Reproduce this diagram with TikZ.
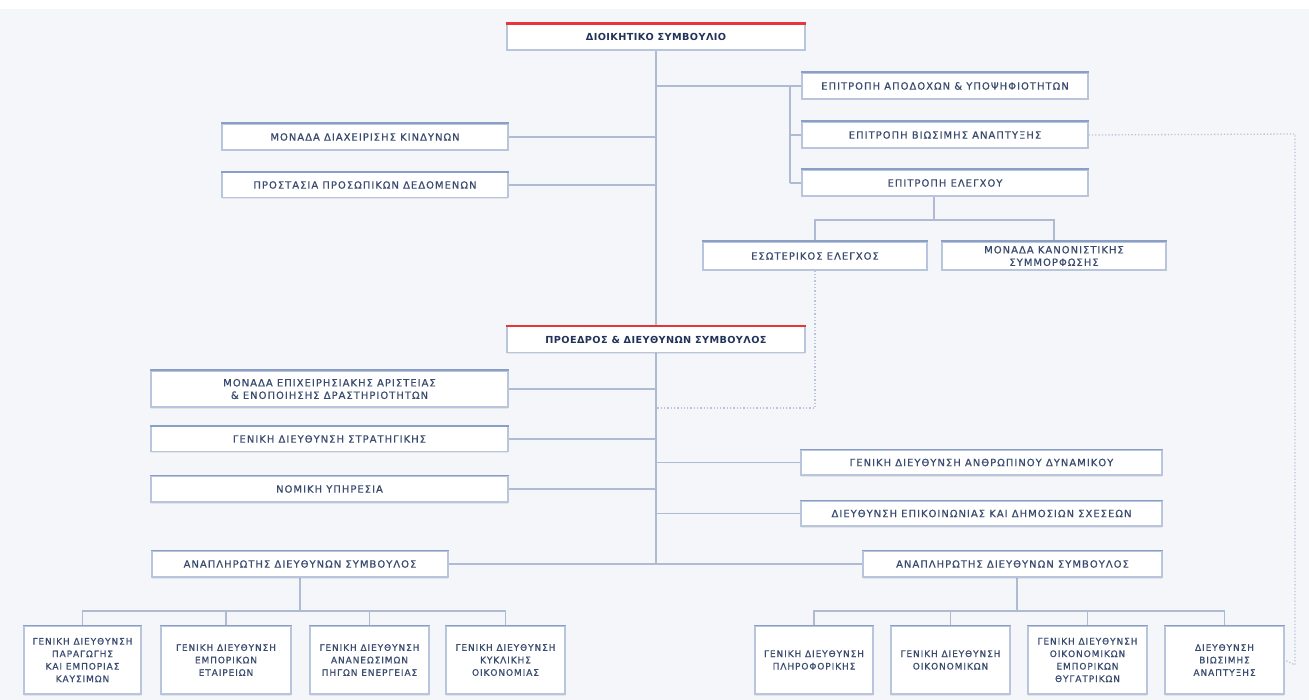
\documentclass[tikz,border=0pt]{standalone}
\usepackage{fontspec}
\usetikzlibrary{shadows}
\setmainfont{DejaVu Sans}
\newfontfamily\regf[LetterSpace=10,FakeBold=0.7]{DejaVu Sans}
\newfontfamily\boldf[LetterSpace=4]{DejaVu Sans Bold}
\definecolor{bg}{HTML}{F4F6FA}
\definecolor{bxb}{HTML}{B8C5DC}
\definecolor{bxtop}{HTML}{8A9FC5}
\definecolor{redtop}{HTML}{E8343B}
\definecolor{lnc}{HTML}{AEBBD2}
\definecolor{dotc}{HTML}{BAC5D9}
\definecolor{txt}{HTML}{3A4B70}
\definecolor{txtb}{HTML}{22335A}
\tikzset{
  box/.style={draw=bxb, line width=1.1pt, fill=white, inner sep=0pt, align=center,
    text=txt, font={\regf\fontsize{10}{12.5}\selectfont},
    drop shadow={shadow xshift=0pt, shadow yshift=-1.5pt, opacity=0.12, fill=black!60},
    append after command={(\tikzlastnode.north west) edge[draw=bxtop, line width=1.9pt] (\tikzlastnode.north east)}},
  small/.style={font={\regf\fontsize{9}{12.5}\selectfont}},
  mainbox/.style={draw=bxb, line width=1.1pt, fill=white, inner sep=0pt, align=center,
    text=txtb, font={\boldf\fontsize{9.7}{12.5}\selectfont},
    drop shadow={shadow xshift=0pt, shadow yshift=-1.5pt, opacity=0.12, fill=black!60},
    append after command={(\tikzlastnode.north west) edge[draw=redtop, line width=2.2pt] (\tikzlastnode.north east)}},
  conn/.style={draw=lnc, line width=1.1pt},
  dotl/.style={draw=dotc, line width=1.3pt, dotted}
}
\begin{document}
\begin{tikzpicture}[x=1pt,y=-1pt]
\fill[bg] (0,0) rectangle (1309,700);
\fill[white] (0,0) rectangle (1309,9);
\useasboundingbox (0,0) rectangle (1309,700);

% coordinates for junctions
\coordinate (tA) at (656,86);
\coordinate (cA) at (790,86);
\coordinate (cB) at (790,135);
\coordinate (cC) at (790,183);
\coordinate (eD) at (934,220);
\coordinate (eL) at (815,220);
\coordinate (eR) at (1054,220);
\coordinate (tK) at (656,137);
\coordinate (tP) at (656,185);
\coordinate (tE) at (656,389);
\coordinate (tS) at (656,439);
\coordinate (tN) at (656,489);
\coordinate (tH) at (656,462.5);
\coordinate (tC) at (656,513.5);
\coordinate (tD) at (656,564);
\coordinate (bL) at (300,611);
\coordinate (bR) at (1017,611);
\coordinate (dA) at (815,408);
\coordinate (dB) at (656,408);
\coordinate (vA) at (1295,134);
\coordinate (vB) at (1295,665);

% connectors
\draw[conn] (656,50) -- (656,327);
\draw[conn] (656,352) -- (tD);
\draw[conn] (tA) -- (802,86);
\draw[conn] (cA) -- (cC);
\draw[conn] (cB) -- (802,135);
\draw[conn] (cC) -- (802,183);
\draw[conn] (934,196) -- (eD);
\draw[conn] (815,242) -- (eL) -- (eR) -- (1054,242);
\draw[conn] (508,137) -- (tK);
\draw[conn] (508,185) -- (tP);
\draw[conn] (508,389) -- (tE);
\draw[conn] (508,439) -- (tS);
\draw[conn] (508,489) -- (tN);
\draw[conn] (tH) -- (801,462.5);
\draw[conn] (tC) -- (801,513.5);
\draw[conn] (448,564) -- (863,564);
\draw[conn] (300,577) -- (bL);
\draw[conn] (1017,577) -- (bR);
\draw[conn] (82.5,626) -- (82.5,611) -- (505.5,611) -- (505.5,626);
\draw[conn] (226,611) -- (226,626);
\draw[conn] (369.5,611) -- (369.5,626);
\draw[conn] (814,626) -- (814,611) -- (1224.5,611) -- (1224.5,626);
\draw[conn] (950.5,611) -- (950.5,626);
\draw[conn] (1087.5,611) -- (1087.5,626);

% boxes
\node[mainbox, minimum width=298pt, minimum height=26pt] (board) at (656,37) {ΔΙΟΙΚΗΤΙΚΟ ΣΥΜΒΟΥΛΙΟ};
\node[box, minimum width=286pt, minimum height=26pt] (apo) at (945,86) {ΕΠΙΤΡΟΠΗ ΑΠΟΔΟΧΩΝ \& ΥΠΟΨΗΦΙΟΤΗΤΩΝ};
\node[box, minimum width=286pt, minimum height=26pt] (vio) at (945,135) {ΕΠΙΤΡΟΠΗ ΒΙΩΣΙΜΗΣ ΑΝΑΠΤΥΞΗΣ};
\node[box, minimum width=286pt, minimum height=26pt] (ele) at (945,183) {ΕΠΙΤΡΟΠΗ ΕΛΕΓΧΟΥ};
\node[box, minimum width=286pt, minimum height=26pt] (kind) at (365,137) {ΜΟΝΑΔΑ ΔΙΑΧΕΙΡΙΣΗΣ ΚΙΝΔΥΝΩΝ};
\node[box, minimum width=286pt, minimum height=25pt] (pros) at (365,185) {ΠΡΟΣΤΑΣΙΑ ΠΡΟΣΩΠΙΚΩΝ ΔΕΔΟΜΕΝΩΝ};
\node[box, minimum width=224pt, minimum height=28pt] (eso) at (815,256) {ΕΣΩΤΕΡΙΚΟΣ ΕΛΕΓΧΟΣ};
\node[box, minimum width=224pt, minimum height=28pt] (kan) at (1054,256) {ΜΟΝΑΔΑ ΚΑΝΟΝΙΣΤΙΚΗΣ\\ΣΥΜΜΟΡΦΩΣΗΣ};
\node[mainbox, minimum width=298pt, minimum height=26pt] (pres) at (656,339.5) {ΠΡΟΕΔΡΟΣ \& ΔΙΕΥΘΥΝΩΝ ΣΥΜΒΟΥΛΟΣ};
\node[box, minimum width=357pt, minimum height=36pt] (epix) at (329.5,389) {ΜΟΝΑΔΑ ΕΠΙΧΕΙΡΗΣΙΑΚΗΣ ΑΡΙΣΤΕΙΑΣ\\\& ΕΝΟΠΟΙΗΣΗΣ ΔΡΑΣΤΗΡΙΟΤΗΤΩΝ};
\node[box, minimum width=357pt, minimum height=25pt] (strat) at (329.5,439) {ΓΕΝΙΚΗ ΔΙΕΥΘΥΝΣΗ ΣΤΡΑΤΗΓΙΚΗΣ};
\node[box, minimum width=357pt, minimum height=26pt] (nom) at (329.5,489) {ΝΟΜΙΚΗ ΥΠΗΡΕΣΙΑ};
\node[box, minimum width=361pt, minimum height=25pt] (anth) at (981.5,462.5) {ΓΕΝΙΚΗ ΔΙΕΥΘΥΝΣΗ ΑΝΘΡΩΠΙΝΟΥ ΔΥΝΑΜΙΚΟΥ};
\node[box, minimum width=361pt, minimum height=25pt] (epik) at (981.5,513.5) {ΔΙΕΥΘΥΝΣΗ ΕΠΙΚΟΙΝΩΝΙΑΣ ΚΑΙ ΔΗΜΟΣΙΩΝ ΣΧΕΣΕΩΝ};
\node[box, minimum width=296pt, minimum height=26pt] (depL) at (300,564) {ΑΝΑΠΛΗΡΩΤΗΣ ΔΙΕΥΘΥΝΩΝ ΣΥΜΒΟΥΛΟΣ};
\node[box, minimum width=299pt, minimum height=26pt] (depR) at (1012.5,564) {ΑΝΑΠΛΗΡΩΤΗΣ ΔΙΕΥΘΥΝΩΝ ΣΥΜΒΟΥΛΟΣ};

\node[box, small, minimum width=117pt, minimum height=68pt] (l1) at (82.5,660) {ΓΕΝΙΚΗ ΔΙΕΥΘΥΝΣΗ\\ΠΑΡΑΓΩΓΗΣ\\ΚΑΙ ΕΜΠΟΡΙΑΣ\\ΚΑΥΣΙΜΩΝ};
\node[box, small, minimum width=130pt, minimum height=68pt] (l2) at (226,660) {ΓΕΝΙΚΗ ΔΙΕΥΘΥΝΣΗ\\ΕΜΠΟΡΙΚΩΝ\\ΕΤΑΙΡΕΙΩΝ};
\node[box, small, minimum width=119pt, minimum height=68pt] (l3) at (369.5,660) {ΓΕΝΙΚΗ ΔΙΕΥΘΥΝΣΗ\\ΑΝΑΝΕΩΣΙΜΩΝ\\ΠΗΓΩΝ ΕΝΕΡΓΕΙΑΣ};
\node[box, small, minimum width=119pt, minimum height=68pt] (l4) at (505.5,660) {ΓΕΝΙΚΗ ΔΙΕΥΘΥΝΣΗ\\ΚΥΚΛΙΚΗΣ\\ΟΙΚΟΝΟΜΙΑΣ};
\node[box, small, minimum width=118pt, minimum height=68pt] (r1) at (814,660) {ΓΕΝΙΚΗ ΔΙΕΥΘΥΝΣΗ\\ΠΛΗΡΟΦΟΡΙΚΗΣ};
\node[box, small, minimum width=119pt, minimum height=68pt] (r2) at (950.5,660) {ΓΕΝΙΚΗ ΔΙΕΥΘΥΝΣΗ\\ΟΙΚΟΝΟΜΙΚΩΝ};
\node[box, small, minimum width=119pt, minimum height=68pt] (r3) at (1087.5,660) {ΓΕΝΙΚΗ ΔΙΕΥΘΥΝΣΗ\\ΟΙΚΟΝΟΜΙΚΩΝ\\ΕΜΠΟΡΙΚΩΝ\\ΘΥΓΑΤΡΙΚΩΝ};
\node[box, small, minimum width=119pt, minimum height=68pt] (r4) at (1224.5,660) {ΔΙΕΥΘΥΝΣΗ\\ΒΙΩΣΙΜΗΣ\\ΑΝΑΠΤΥΞΗΣ};

% dotted links
\draw[dotl] (eso.south) -- (dA) -- (dB);
\draw[dotl] (vio.east) -- (vA) -- (vB) -- (r4.east);
\end{tikzpicture}
\end{document}
